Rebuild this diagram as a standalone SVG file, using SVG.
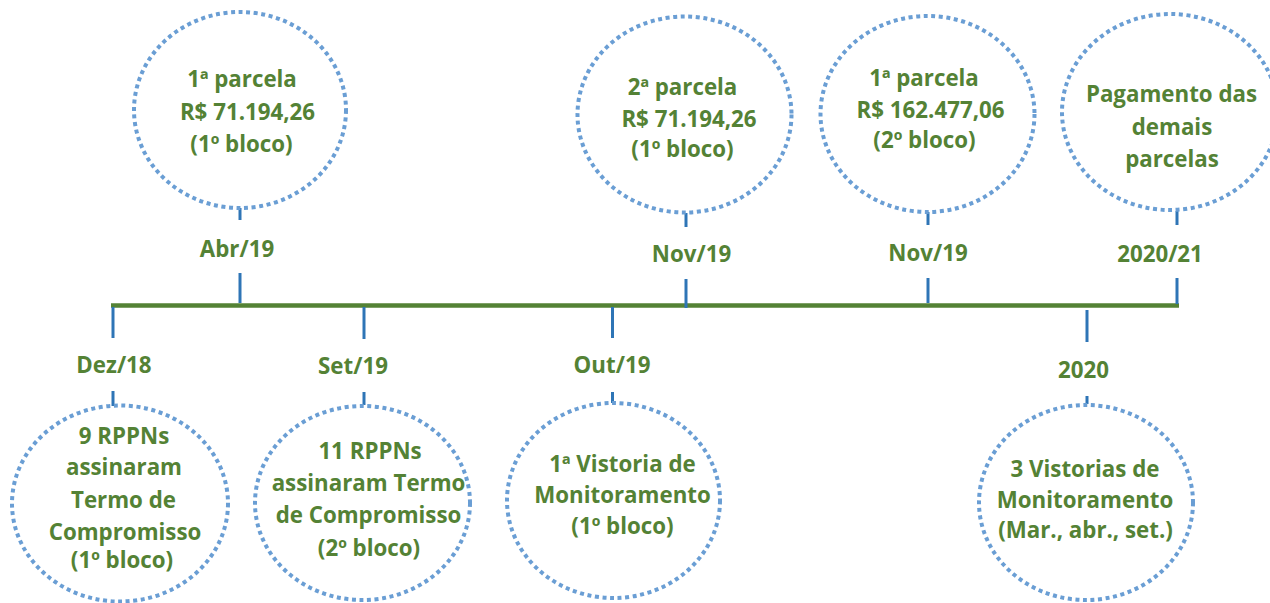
<svg xmlns="http://www.w3.org/2000/svg" width="1270" height="603" viewBox="0 0 1270 603">
<style>
.t{font-family:"Open Sans","Liberation Sans",sans-serif;font-weight:bold;font-size:22.3px;fill:#548235;text-anchor:middle}
.c{fill:none;stroke:#6A9ED4;stroke-width:4;stroke-dasharray:4 3.6}
.k{stroke:#2E75B6;stroke-width:3;fill:none}
.m{stroke:#548235;stroke-width:4.5;fill:none}
</style>
<rect width="1270" height="603" fill="#fff"/>
<g id="connectors">
<line class="m" x1="111" y1="305.5" x2="1179" y2="305.5"/>
<line class="k" x1="113" y1="307" x2="113" y2="338"/>
<line class="k" x1="113" y1="391" x2="113" y2="406"/>
<line class="k" x1="240" y1="208" x2="240" y2="220"/>
<line class="k" x1="240" y1="273" x2="240" y2="303"/>
<line class="k" x1="364" y1="307" x2="364" y2="339"/>
<line class="k" x1="364" y1="392" x2="364" y2="405"/>
<line class="k" x1="612.5" y1="307" x2="612.5" y2="338"/>
<line class="k" x1="612.5" y1="392" x2="612.5" y2="403"/>
<line class="k" x1="686" y1="213" x2="686" y2="227"/>
<line class="k" x1="686" y1="279" x2="686" y2="308"/>
<line class="k" x1="928" y1="212" x2="928" y2="225"/>
<line class="k" x1="928" y1="278" x2="928" y2="303"/>
<line class="k" x1="1177" y1="211" x2="1177" y2="225"/>
<line class="k" x1="1177" y1="278" x2="1177" y2="304"/>
<line class="k" x1="1087" y1="310" x2="1087" y2="342"/>
<line class="k" x1="1087" y1="396" x2="1087" y2="404"/>
</g>
<g id="labels">
<text class="t" x="114" y="373">Dez/18</text>
<text class="t" x="237" y="257">Abr/19</text>
<text class="t" x="353" y="374">Set/19</text>
<text class="t" x="612" y="373">Out/19</text>
<text class="t" x="691.5" y="262">Nov/19</text>
<text class="t" x="928" y="261">Nov/19</text>
<text class="t" x="1160" y="262">2020/21</text>
<text class="t" x="1083.5" y="378">2020</text>
</g>
<g id="n1">
<ellipse class="c" cx="240" cy="110" rx="106" ry="98"/>
<text class="t" x="242" y="87">1ª parcela</text>
<text class="t" x="247.5" y="120">R$ 71.194,26</text>
<text class="t" x="241.5" y="152">(1º bloco)</text>
</g>
<g id="n2">
<ellipse class="c" cx="684.5" cy="114.5" rx="107" ry="98"/>
<text class="t" x="682.5" y="95">2ª parcela</text>
<text class="t" x="689" y="127">R$ 71.194,26</text>
<text class="t" x="682.5" y="157">(1º bloco)</text>
</g>
<g id="n3">
<ellipse class="c" cx="927.5" cy="114" rx="107" ry="98"/>
<text class="t" x="924" y="86">1ª parcela</text>
<text class="t" x="930.5" y="118">R$ 162.477,06</text>
<text class="t" x="924.5" y="148">(2º bloco)</text>
</g>
<g id="n4">
<ellipse class="c" cx="1170" cy="112" rx="108" ry="98"/>
<text class="t" x="1171.5" y="102">Pagamento das</text>
<text class="t" x="1172" y="135">demais</text>
<text class="t" x="1172" y="167">parcelas</text>
</g>
<g id="n5">
<ellipse class="c" cx="120" cy="503.5" rx="108" ry="98"/>
<text class="t" x="124" y="444">9 RPPNs</text>
<text class="t" x="124" y="475">assinaram</text>
<text class="t" x="123.5" y="508">Termo de</text>
<text class="t" x="125" y="540">Compromisso</text>
<text class="t" x="122" y="568">(1º bloco)</text>
</g>
<g id="n6">
<ellipse class="c" cx="362.5" cy="503" rx="107.5" ry="97"/>
<text class="t" x="370" y="459">11 RPPNs</text>
<text class="t" x="368.5" y="491">assinaram Termo</text>
<text class="t" x="368.5" y="523">de Compromisso</text>
<text class="t" x="369" y="556">(2º bloco)</text>
</g>
<g id="n7">
<ellipse class="c" cx="613.5" cy="500.5" rx="106.5" ry="97.5"/>
<text class="t" x="622.5" y="472">1ª Vistoria de</text>
<text class="t" x="622.5" y="503">Monitoramento</text>
<text class="t" x="622.5" y="534">(1º bloco)</text>
</g>
<g id="n8">
<ellipse class="c" cx="1086" cy="502.5" rx="107" ry="97.5"/>
<text class="t" x="1085" y="477">3 Vistorias de</text>
<text class="t" x="1085" y="508">Monitoramento</text>
<text class="t" x="1085.5" y="538">(Mar., abr., set.)</text>
</g>
</svg>
